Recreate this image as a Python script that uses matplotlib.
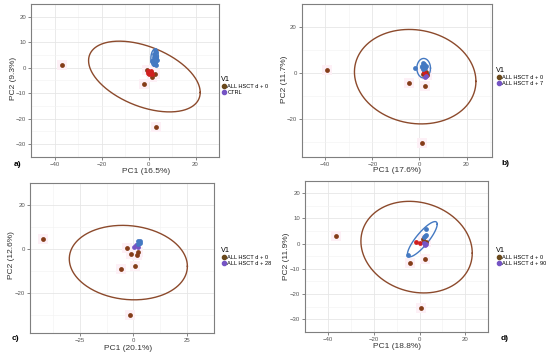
import numpy as np
import matplotlib
matplotlib.use("Agg")
import matplotlib.pyplot as plt
from matplotlib.lines import Line2D

plt.rcParams['font.family'] = ['Liberation Sans', 'DejaVu Sans']

# ---------------- data ----------------
# panel a
a_d0_x = [-36.6, -1.8, 3.1, -0.6, 1.5, 2.9, 0.9]
a_d0_y = [0.9, -6.5, -23.2, -0.9, -3.7, -2.7, -1.9]
a_red_x = [-0.1, 0.6, 1.1, 0.4, 1.6, -0.4]
a_red_y = [-1.2, -2.1, -1.4, -2.7, -2.4, -2.0]
a_grp_x = [2.5, 3.0, 2.0, 2.8, 3.2, 2.2, 3.5, 2.6, 1.5, 2.9, 2.3, 3.3]
a_grp_y = [5.5, 4.0, 3.0, 2.0, 6.0, 1.5, 3.0, 6.8, 2.5, 4.8, 4.2, 1.2]
a_ell_d0 = [-1.75, -3.5, 23.75, 13.9, -0.45]
a_ell_grp = [2.6, 3.9, 1.6, 3.4, 0.1]

# panel b
b_d0_x = [-39.3, -4.3, 2.3, 0.9, 1.5, 2.8, 3.3]
b_d0_y = [1.0, -4.6, -5.9, -30.6, -0.5, 0.3, -1.0]
b_red_x = [2.4, 1.8, 3.0]
b_red_y = [-0.4, 0.2, -0.8]
b_grp_x = [-2.0, 1.2, 1.8, 2.4, 1.5, 2.1, 1.0, 2.6, 1.7]
b_grp_y = [2.1, 2.5, 3.2, 2.0, 1.5, 3.9, 2.9, 2.8, 4.4]
b_pur_x = [2.2, 2.8]
b_pur_y = [-1.8, -1.3]
b_ell_d0 = [-1.8, -1.7, 25.8, 20.6, -0.1]
b_ell_grp = [1.8, 2.0, 2.9, 4.25, 0.0]

# panel c
c_d0_x = [-42.0, -2.9, -1.0, -6.0, 0.9, -1.7, 1.9, 1.6]
c_d0_y = [4.7, 0.4, -2.3, -9.0, -7.5, -30.0, -1.0, -2.6]
c_grp_x = [2.3, 2.9, 1.9, 3.2, 2.6]
c_grp_y = [3.7, 3.0, 2.3, 4.0, 2.8]
c_pur_x = [0.1, 1.1, 2.0]
c_pur_y = [0.9, 1.8, 1.3]
c_ell_d0 = [-2.4, -6.0, 27.5, 16.9, -0.1]

# panel d
d_d0_x = [-36.5, -4.2, 2.2, 0.8, 1.9, 2.9, 1.3]
d_d0_y = [3.1, -7.75, -6.25, -25.4, 0.6, 0.6, 1.9]
d_red_x = [-1.5, 0.4]
d_red_y = [0.6, 0.25]
d_grp_x = [3.0, -5.1, 2.3, 2.0, 2.7]
d_grp_y = [6.0, -4.4, 3.1, 2.6, 3.6]
d_pur_x = [2.3, 2.7, 1.9]
d_pur_y = [-0.6, -0.3, 0.2]
d_ell_d0 = [-1.3, -1.4, 24.3, 18.2, -0.13]
d_ell_grp = [1.2, 1.75, 6.5, 7.0, 0.85]

pc1_labels = ["PC1 (16.5%)", "PC1 (17.6%)", "PC1 (20.1%)", "PC1 (18.8%)"]
pc2_labels = ["PC2 (9.3%)", "PC2 (11.7%)", "PC2 (12.6%)", "PC2 (11.9%)"]
legend_second = ["CTRL", "ALL HSCT d + 7", "ALL HSCT d + 28", "ALL HSCT d + 90"]
legend_first = "ALL HSCT d + 0"
panel_tags = ["a)", "b)", "c)", "d)"]

# ---------------- style ----------------
BROWN = "#843C18"
BROWN_ELL = "#8C4A2C"
RED = "#D01E1E"
BLUE = "#4479C2"
PURPLE = "#7554C4"
LEG_BROWN = "#6A4A1C"
HALO = "#FDF0F6"

W, H = 550, 355
fig = plt.figure(figsize=(5.5, 3.55), dpi=100)
fig.patch.set_facecolor("white")


def px_axes(l, r, t, b):
    return fig.add_axes([l / W, 1 - b / H, (r - l) / W, (b - t) / H])


def ellipse(ax, p, color, lw=1.0):
    cx, cy, rx, ry, c = p
    phi = np.arccos(c)
    t = np.linspace(0, 2 * np.pi, 300)
    ax.plot(cx + rx * np.cos(t), cy + ry * np.cos(t + phi), color=color, lw=lw, zorder=4)


def style(ax, xlim, ylim, xmaj, ymaj):
    ax.set_xlim(*xlim)
    ax.set_ylim(*ylim)
    ax.set_xticks(xmaj)
    ax.set_yticks(ymaj)
    xs = np.diff(xmaj)[0] / 2
    ys = np.diff(ymaj)[0] / 2
    ax.set_xticks(np.arange(xmaj[0] - xs, xmaj[-1] + 2 * xs, 2 * xs), minor=True)
    ax.set_yticks(np.arange(ymaj[0] - ys, ymaj[-1] + 2 * ys, 2 * ys), minor=True)
    ax.grid(True, which="major", color="#E6E6E6", lw=0.6)
    ax.grid(True, which="minor", color="#F2F2F2", lw=0.4)
    ax.set_axisbelow(True)
    ax.tick_params(which="major", length=2, width=0.5, color="#555555",
                   labelsize=4.3, labelcolor="#555555", pad=1.5)
    ax.tick_params(which="minor", length=0)
    for s in ax.spines.values():
        s.set_color("#7F7F7F")
        s.set_linewidth(0.8)


def pts(ax, x, y, color, halo=False, s=12):
    if halo:
        ax.scatter(x, y, s=60, marker="s", color=HALO, lw=0, zorder=2)
    ax.scatter(x, y, s=s, color=color, lw=0, zorder=5)


def legend(ax, second, xfig, yfig):
    h = [Line2D([], [], marker="o", ls="", color=LEG_BROWN, ms=3),
         Line2D([], [], marker="o", ls="", color=PURPLE, ms=3)]
    lg = ax.legend(h, [legend_first, second], title="V1", loc="upper left",
                   bbox_to_anchor=(xfig / W, 1 - yfig / H), bbox_transform=fig.transFigure,
                   frameon=False, fontsize=4.1, title_fontsize=5.2, handletextpad=0.1,
                   handlelength=1.0, labelspacing=0.15, borderpad=0, borderaxespad=0)
    lg._legend_box.align = "left"


# panel a
ax = px_axes(31, 219, 4, 156.7)
style(ax, (-42, 27.5), (-34.6, 22.2), [-40, -20, 0, 20], [-30, -20, -10, 0, 10, 20])
pts(ax, a_d0_x, a_d0_y, BROWN, halo=True)
pts(ax, a_red_x, a_red_y, RED)
pts(ax, a_grp_x, a_grp_y, BLUE)
ellipse(ax, a_ell_d0, BROWN_ELL)
ellipse(ax, a_ell_grp, BLUE)
legend(ax, legend_second[0], 221, 76)

# panel b
ax = px_axes(301.7, 491.7, 4, 156.7)
style(ax, (-45.7, 30.7), (-36.6, 24.7), [-40, -20, 0, 20], [-20, 0, 20])
pts(ax, b_d0_x, b_d0_y, BROWN, halo=True)
pts(ax, b_red_x, b_red_y, RED)
pts(ax, b_grp_x, b_grp_y, BLUE)
pts(ax, b_pur_x, b_pur_y, PURPLE)
ellipse(ax, b_ell_d0, BROWN_ELL)
ellipse(ax, b_ell_grp, BLUE)
legend(ax, legend_second[1], 496, 67)

# panel c
ax = px_axes(30, 214, 183.3, 333.3)
style(ax, (-48.2, 30.9), (-38.1, 26.0), [-25, 0, 25], [-20, 0, 20])
pts(ax, c_d0_x, c_d0_y, BROWN, halo=True)
pts(ax, c_pur_x, c_pur_y, PURPLE)
pts(ax, c_grp_x, c_grp_y, BLUE)
ellipse(ax, c_ell_d0, BROWN_ELL)
legend(ax, legend_second[2], 221, 247)

# panel d
ax = px_axes(305, 488.3, 180.7, 331.7)
style(ax, (-40.6, 28.4), (-32.5, 24.1), [-40, -20, 0, 20], [-30, -20, -10, 0, 10, 20])
pts(ax, d_d0_x, d_d0_y, BROWN, halo=True)
pts(ax, d_red_x, d_red_y, RED)
pts(ax, d_grp_x, d_grp_y, BLUE)
pts(ax, d_pur_x, d_pur_y, PURPLE)
ellipse(ax, d_ell_d0, BROWN_ELL)
ellipse(ax, d_ell_grp, BLUE)
legend(ax, legend_second[3], 496, 247)

# axis titles and tags
xl_pos = [(146, 171.5), (397, 171), (127.7, 348), (396.7, 346.5)]
yl_pos = [(13.3, 78), (285, 79), (11.7, 255), (286.7, 256.7)]
tag_pos = [(18, 164), (505, 163), (15, 339), (505, 339)]
for i in range(4):
    fig.text(xl_pos[i][0] / W, 1 - xl_pos[i][1] / H, pc1_labels[i], fontsize=6,
             color="#333333", ha="center", va="center")
    fig.text(yl_pos[i][0] / W, 1 - yl_pos[i][1] / H, pc2_labels[i], fontsize=6,
             color="#333333", ha="center", va="center", rotation=90)
    fig.text(tag_pos[i][0] / W, 1 - tag_pos[i][1] / H, panel_tags[i], fontsize=6,
             fontweight="bold", color="black", ha="center", va="center")

fig.savefig("out.png", dpi=100, facecolor="white")
